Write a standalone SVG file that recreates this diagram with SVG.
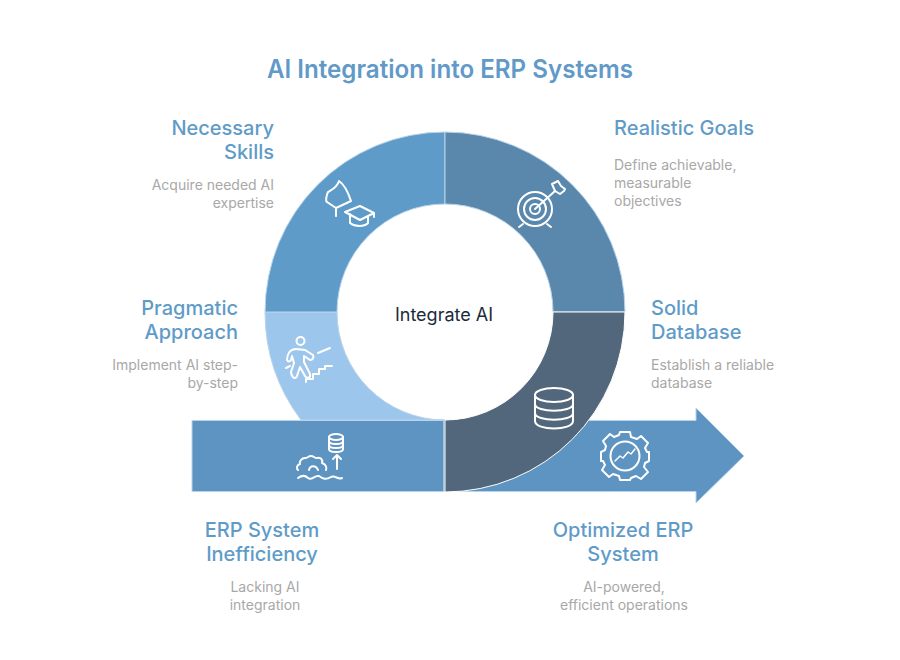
<svg xmlns="http://www.w3.org/2000/svg" width="900" height="660" viewBox="0 0 900 660">
<style>
text{font-family:"Inter","Liberation Sans",sans-serif}
.t{font-size:20px;fill:#5f9bc8;font-weight:500}
.d{font-size:14px;fill:#a8a8a8;font-weight:400}
.e{text-anchor:end}.m{text-anchor:middle}
.i{fill:none;stroke:#fff;stroke-width:2;stroke-linecap:round;stroke-linejoin:round}
.seg{stroke:#b9d4ea;stroke-width:1}
</style>
<rect width="900" height="660" fill="#fff"/>
<text x="450" y="78" class="m" font-size="25" font-weight="600" fill="#6199c8" textLength="366" lengthAdjust="spacingAndGlyphs">AI Integration into ERP Systems</text>
<g id="connectors">
<path id="arrow" d="M192 420.500H696V408L744 456L696 503V491.500H192Z" fill="#5d94c2" stroke="#b9d4ea" stroke-width="1"/>
</g>
<g id="node-pragmatic">
<path class="seg" d="M265 312H337A108 108 0 0 0 445 420H301A180 180 0 0 1 265 312Z" fill="#9dc6ec"/>
<g class="i"><circle cx="300.500" cy="341" r="4"/><path d="M296 349C290 349 287 354 287 360C288 362 290 362 291 360L292 356L294 363L291 372C292 379 296 379 297 376L300 367L305 376C307 379 311 378 310 374L304 362L304 356L310 360C313 360 314 357 313 355L305 350Z"/><path d="M318 353L330 348"/><path d="M286 368L290 366"/><path d="M306 382V379H313V374H319V369H325V366H332"/></g>
<text x="238" y="315" class="t e">Pragmatic</text><text x="238" y="339" class="t e">Approach</text>
<text x="238" y="370" class="d e">Implement AI step-</text><text x="238" y="388" class="d e">by-step</text>
</g>
<g id="node-skills">
<path class="seg" d="M265 312A180 180 0 0 1 445 132V204A108 108 0 0 0 337 312Z" fill="#5f9bc8"/>
<g class="i"><path d="M339 181C345 185 348 192 351 201L336 208L327 202C325 201 327 194 328 192C331 190 337 188 339 181Z"/><path d="M336 208V215.500M336 208V215"/><path d="M336 216V215"/><path d="M345 212L360 206L374 213L360 220ZM350 214V223C355 227 364 227 368 223V216M374 213V217"/></g>
<text x="274" y="135" class="t e">Necessary</text><text x="274" y="159" class="t e">Skills</text>
<text x="274" y="190" class="d e">Acquire needed AI</text><text x="274" y="208" class="d e">expertise</text>
</g>
<g id="node-goals">
<path class="seg" d="M445 132A180 180 0 0 1 625 312H553A108 108 0 0 0 445 204Z" fill="#5a88ad"/>
<g class="i"><circle cx="535" cy="209" r="17"/><circle cx="535" cy="209" r="11"/><circle cx="535" cy="209" r="5"/><path d="M535 209L555 191"/><path d="M555 191L552 184L558 181L561 186L565 189L564 191L560 194Z" /><path d="M523 224L519 227M547 224L551 227"/></g>
<text x="614" y="135" class="t">Realistic Goals</text>
<text x="614" y="170" class="d">Define achievable,</text><text x="614" y="188" class="d">measurable</text><text x="614" y="206" class="d">objectives</text>
</g>
<g id="node-database">
<path d="M625 312A180 180 0 0 1 445 492V420A108 108 0 0 0 553 312Z" fill="#52677c" stroke="#fff" stroke-width="1"/>
<g class="i"><ellipse cx="554" cy="395" rx="19" ry="7"/><path d="M535 395V421C535 431 573 431 573 421V395M535 404C535 413 573 413 573 404M535 413C535 422 573 422 573 413"/></g>
<text x="651" y="315" class="t">Solid</text><text x="651" y="339" class="t">Database</text>
<text x="651" y="370" class="d">Establish a reliable</text><text x="651" y="388" class="d">database</text>
</g>
<g id="node-start">
<path d="M444 420V491" stroke="#b9d4ea" stroke-width="1.500"/>
<g class="i" stroke-width="1.500"><ellipse cx="336" cy="437" rx="7" ry="3"/><path d="M329 437V449C329 453 343 453 343 449V437M329 441C329 445 343 445 343 441M329 445C329 449 343 449 343 445"/><path d="M337 469V456M333 459L337 455L341 459"/><path d="M298 470C296 468 297 465 300 464C299 461 302 458 305 458C308 458 308 456 311 456C314 456 314 458 317 458C321 457 323 460 322 463C326 464 327 468 326 470M309 470C310 465 316 465 318 470"/><path d="M298 478C302 475 305 475 308 478C312 481 314 475 319 476C323 479 326 480 331 477C335 475 338 480 342 478"/></g>
<text x="262" y="537" class="t m">ERP System</text><text x="262" y="561" class="t m">Inefficiency</text>
<text x="265" y="592" class="d m">Lacking AI</text><text x="265" y="610" class="d m">integration</text>
</g>
<g id="node-end">
<g class="i"><circle cx="625" cy="456" r="14.500"/><path d="M620 432H630L631 437L637 439L641 436L648 443L645 448L647 452H649V461L645 463L644 467L648 472L641 479L636 476L631 478L630 480H620L619 476L613 474L609 477L602 470L605 465L603 461H601V452L605 450L606 446L603 441L610 434L614 437L619 435Z"/><path d="M615 461L620 456L623 458L628 452L631 454L635 449" stroke-width="1.500"/></g>
<text x="623" y="537" class="t m">Optimized ERP</text><text x="623" y="561" class="t m">System</text>
<text x="624" y="592" class="d m">AI-powered,</text><text x="624" y="610" class="d m">efficient operations</text>
</g>
<g id="node-center"><text x="444" y="321" class="m" font-size="18" fill="#1c2b3a">Integrate AI</text></g>
</svg>
